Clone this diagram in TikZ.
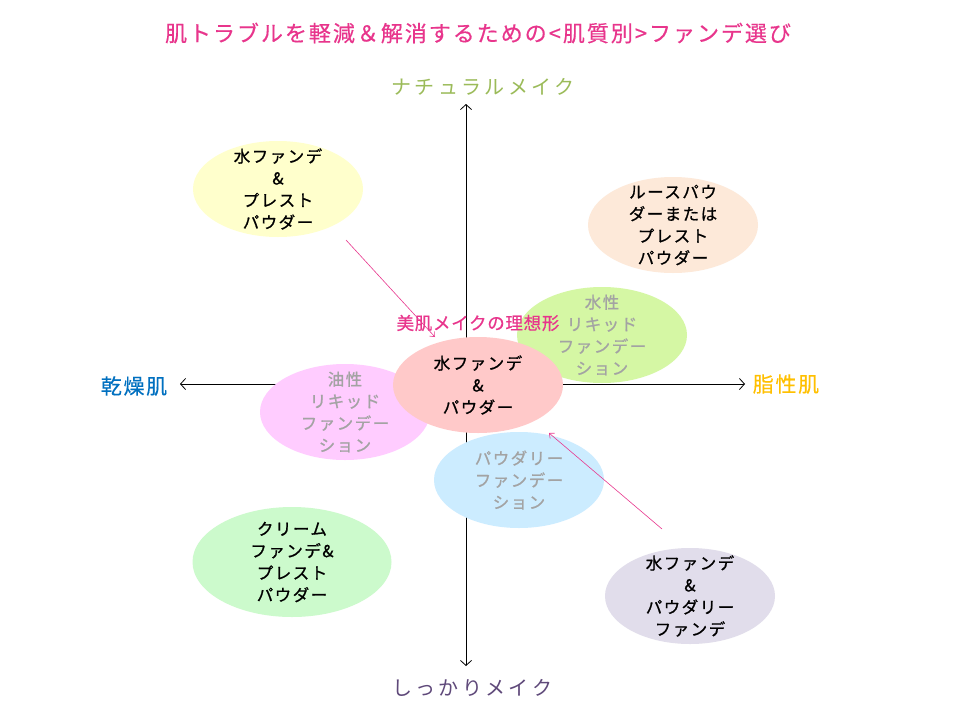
\documentclass[tikz,border=0pt]{standalone}
\usepackage{fontspec}
\usetikzlibrary{shapes.geometric,arrows.meta}
\newfontfamily\jpE[LetterSpace=9,FakeBold=0.9]{Noto Sans CJK JP}
\newfontfamily\jpT[LetterSpace=9,FakeBold=0.4]{Noto Sans CJK JP}
\newfontfamily\jpW[LetterSpace=17]{Noto Sans CJK JP}
\newfontfamily\jpS[LetterSpace=8,FakeBold=0.4]{Noto Sans CJK JP}
\newfontfamily\jpI[LetterSpace=4,FakeBold=0.6]{Noto Sans CJK JP}
\definecolor{titlepink}{HTML}{E8358C}
\definecolor{natgreen}{HTML}{9BBB59}
\definecolor{drybl}{HTML}{0070C0}
\definecolor{oilyel}{HTML}{FFC000}
\definecolor{firmpur}{HTML}{5F497A}
\definecolor{greytxt}{HTML}{A3A3A3}
\definecolor{cYellow}{HTML}{FFFFCC}
\definecolor{cPeach}{HTML}{FDE9D9}
\definecolor{cLime}{HTML}{D5F7A4}
\definecolor{cPink}{HTML}{FFCCFF}
\definecolor{cSalmon}{HTML}{FFC9C9}
\definecolor{cBlue}{HTML}{CCECFF}
\definecolor{cMint}{HTML}{CCFACC}
\definecolor{cLav}{HTML}{E1DDEB}
\definecolor{arrpink}{HTML}{E8388E}
\begin{document}
\begin{tikzpicture}[x=1pt,y=-1pt,
  blob/.style={ellipse, minimum width=170pt, minimum height=96pt, inner sep=0pt, draw=none},
  etext/.style={align=center, font=\jpE\fontsize{16.5}{22}\selectfont, text=black, inner sep=0pt},
  gtext/.style={etext, text=greytxt},
  axislab/.style={inner sep=0pt, font=\jpW\fontsize{20}{22}\selectfont},
  sidelab/.style={inner sep=0pt, font=\jpS\fontsize{21}{22}\selectfont},
  axis/.style={line width=0.8pt, {Straight Barb[length=5pt,width=11pt]}-{Straight Barb[length=5pt,width=11pt]}},
  pinkarr/.style={draw=arrpink, line width=0.6pt, -{Straight Barb[length=4pt,width=7pt]}}
]
\useasboundingbox[fill=white] (0,0) rectangle (960,720);

% title and axis labels
\node[inner sep=0pt, text=titlepink, font=\jpT\fontsize{22}{24}\selectfont] (title) at (478,33) {肌トラブルを軽減＆解消するための<肌質別>ファンデ選び};
\node[axislab, text=natgreen] (nat) at (483,87) {ナチュラルメイク};
\node[axislab, text=firmpur] (firm) at (472,688) {しっかりメイク};
\node[sidelab, text=drybl] (dry) at (134,386) {乾燥肌};
\node[sidelab, text=oilyel] (oily) at (786,384) {脂性肌};

% axes
\coordinate (xl) at (180,384);
\coordinate (xr) at (745,384);
\coordinate (yt) at (466,104);
\coordinate (yb) at (466,666);
\draw[axis] (xl) -- (xr);
\draw[axis] (yt) -- (yb);

% ellipses
\node[blob, fill=cYellow] (yel) at (278,189) {};
\node[blob, fill=cPeach] (pea) at (673,225) {};
\node[blob, fill=cLime] (lim) at (602,335) {};
\node[blob, fill=cPink] (pnk) at (345,412) {};
\node[blob, fill=cBlue] (blu) at (519,480) {};
\node[blob, fill=cMint, minimum width=199pt, minimum height=110pt] (mnt) at (292,562) {};
\node[blob, fill=cLav] (lav) at (690,596) {};
\node[blob, fill=cSalmon] (sal) at (478,385) {};

% texts
\node[etext] (tyel) at (yel) {水ファンデ\\\&\\プレスト\\パウダー};
\node[etext] (tpea) at (pea) {ルースパウ\\ダーまたは\\プレスト\\パウダー};
\node[gtext] (tlim) at (lim) {水性\\リキッド\\ファンデー\\ション};
\node[gtext] (tpnk) at (pnk) {油性\\リキッド\\ファンデー\\ション};
\node[gtext] (tblu) at (blu) {パウダリー\\ファンデー\\ション};
\node[etext] (tmnt) at (mnt) {クリーム\\ファンデ\&\\プレスト\\パウダー};
\node[etext] (tlav) at (lav) {水ファンデ\\\&\\パウダリー\\ファンデ};
\node[etext] (tsal) at (sal) {水ファンデ\\\&\\パウダー};

% ideal label
\node[inner sep=0pt, text=titlepink, font=\jpI\fontsize{17.5}{19}\selectfont] (ideal) at (478,323) {美肌メイクの理想形};

% arrows
\coordinate (a1s) at (346,240);
\coordinate (a1e) at (435,337);
\coordinate (a2s) at (662,529);
\coordinate (a2e) at (549,433);
\draw[pinkarr] (a1s) -- (a1e);
\draw[pinkarr] (a2s) -- (a2e);
\end{tikzpicture}
\end{document}
